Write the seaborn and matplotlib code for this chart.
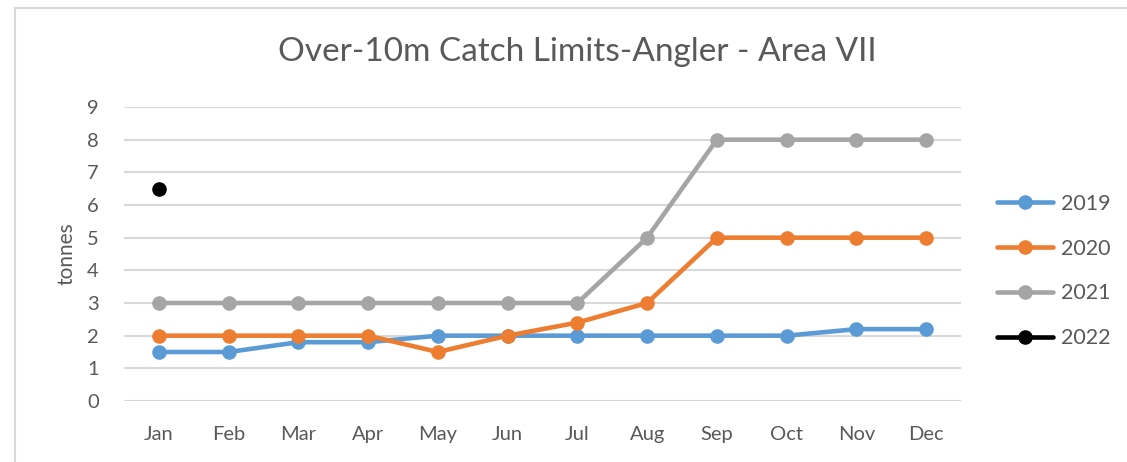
import pandas as pd
import numpy as np
import matplotlib
matplotlib.use("Agg")
import matplotlib.pyplot as plt
import matplotlib.patches as patches
import seaborn as sns

# Data
months = ['Jan', 'Feb', 'Mar', 'Apr', 'May', 'Jun', 'Jul', 'Aug', 'Sep', 'Oct', 'Nov', 'Dec']
limits_2019 = [1.5, 1.5, 1.8, 1.8, 2, 2, 2, 2, 2, 2, 2.2, 2.2]
limits_2020 = [2, 2, 2, 2, 1.5, 2, 2.4, 3, 5, 5, 5, 5]
limits_2021 = [3, 3, 3, 3, 3, 3, 3, 5, 8, 8, 8, 8]
limits_2022 = [6.5, None, None, None, None, None, None, None, None, None, None, None]

years = ['2019', '2020', '2021', '2022']
colors = {'2019': '#5B9BD5', '2020': '#ED7D31', '2021': '#A5A5A5', '2022': '#000000'}

rows = []
for yr, vals in zip(years, [limits_2019, limits_2020, limits_2021, limits_2022]):
    for m, v in zip(months, vals):
        rows.append({'month': m, 'tonnes': v, 'year': yr})
df = pd.DataFrame(rows)
df['pos'] = df['month'].map({m: i for i, m in enumerate(months)})

sns.set_style('white')
plt.rcParams['font.family'] = ['Lato', 'DejaVu Sans']

fig = plt.figure(figsize=(11.27, 4.62), dpi=100)
ax = fig.add_axes([124 / 1127, 1 - 401 / 462, (961 - 124) / 1127, (401 - 107) / 462])

for yr in years:
    sub = df[df['year'] == yr].dropna()
    sns.lineplot(data=sub, x='pos', y='tonnes', ax=ax, color=colors[yr], linewidth=3.3,
                 marker='o', markersize=10.5, markeredgewidth=0, label=yr, sort=False)

ax.set_xlim(-0.5, len(months) - 0.5)
ax.set_ylim(0, 9)
ax.set_xticks(range(len(months)))
ax.set_xticklabels(months)
ax.set_yticks(range(0, 10))
ax.tick_params(axis='both', length=0, labelsize=14.5, labelcolor='#595959')
ax.tick_params(axis='x', pad=18)
ax.tick_params(axis='y', pad=18)
ax.grid(axis='y', color='#D9D9D9', linewidth=1.5)
ax.grid(axis='x', visible=False)
ax.set_axisbelow(True)
for s in ax.spines.values():
    s.set_visible(False)
ax.set_xlabel('')
ax.set_ylabel('tonnes', fontsize=15, color='#595959', labelpad=8)

fig.text(577 / 1127, 1 - 52 / 462, 'Over-10m Catch Limits-Angler - Area VII',
         ha='center', va='center', fontsize=24, color='#595959')

leg = ax.legend(loc='center left', bbox_to_anchor=(1.02, 0.442), frameon=False,
                fontsize=15.5, labelcolor='#595959', handlelength=2.6, handletextpad=0.35,
                labelspacing=1.15)

# light border around the chart area
fig.patches.append(patches.Rectangle((15 / 1127, -0.05), 1.0, 1 - 8 / 462 + 0.05,
                                     transform=fig.transFigure, fill=False,
                                     edgecolor='#D9D9D9', linewidth=1.5))

plt.savefig('out.png', dpi=100)
